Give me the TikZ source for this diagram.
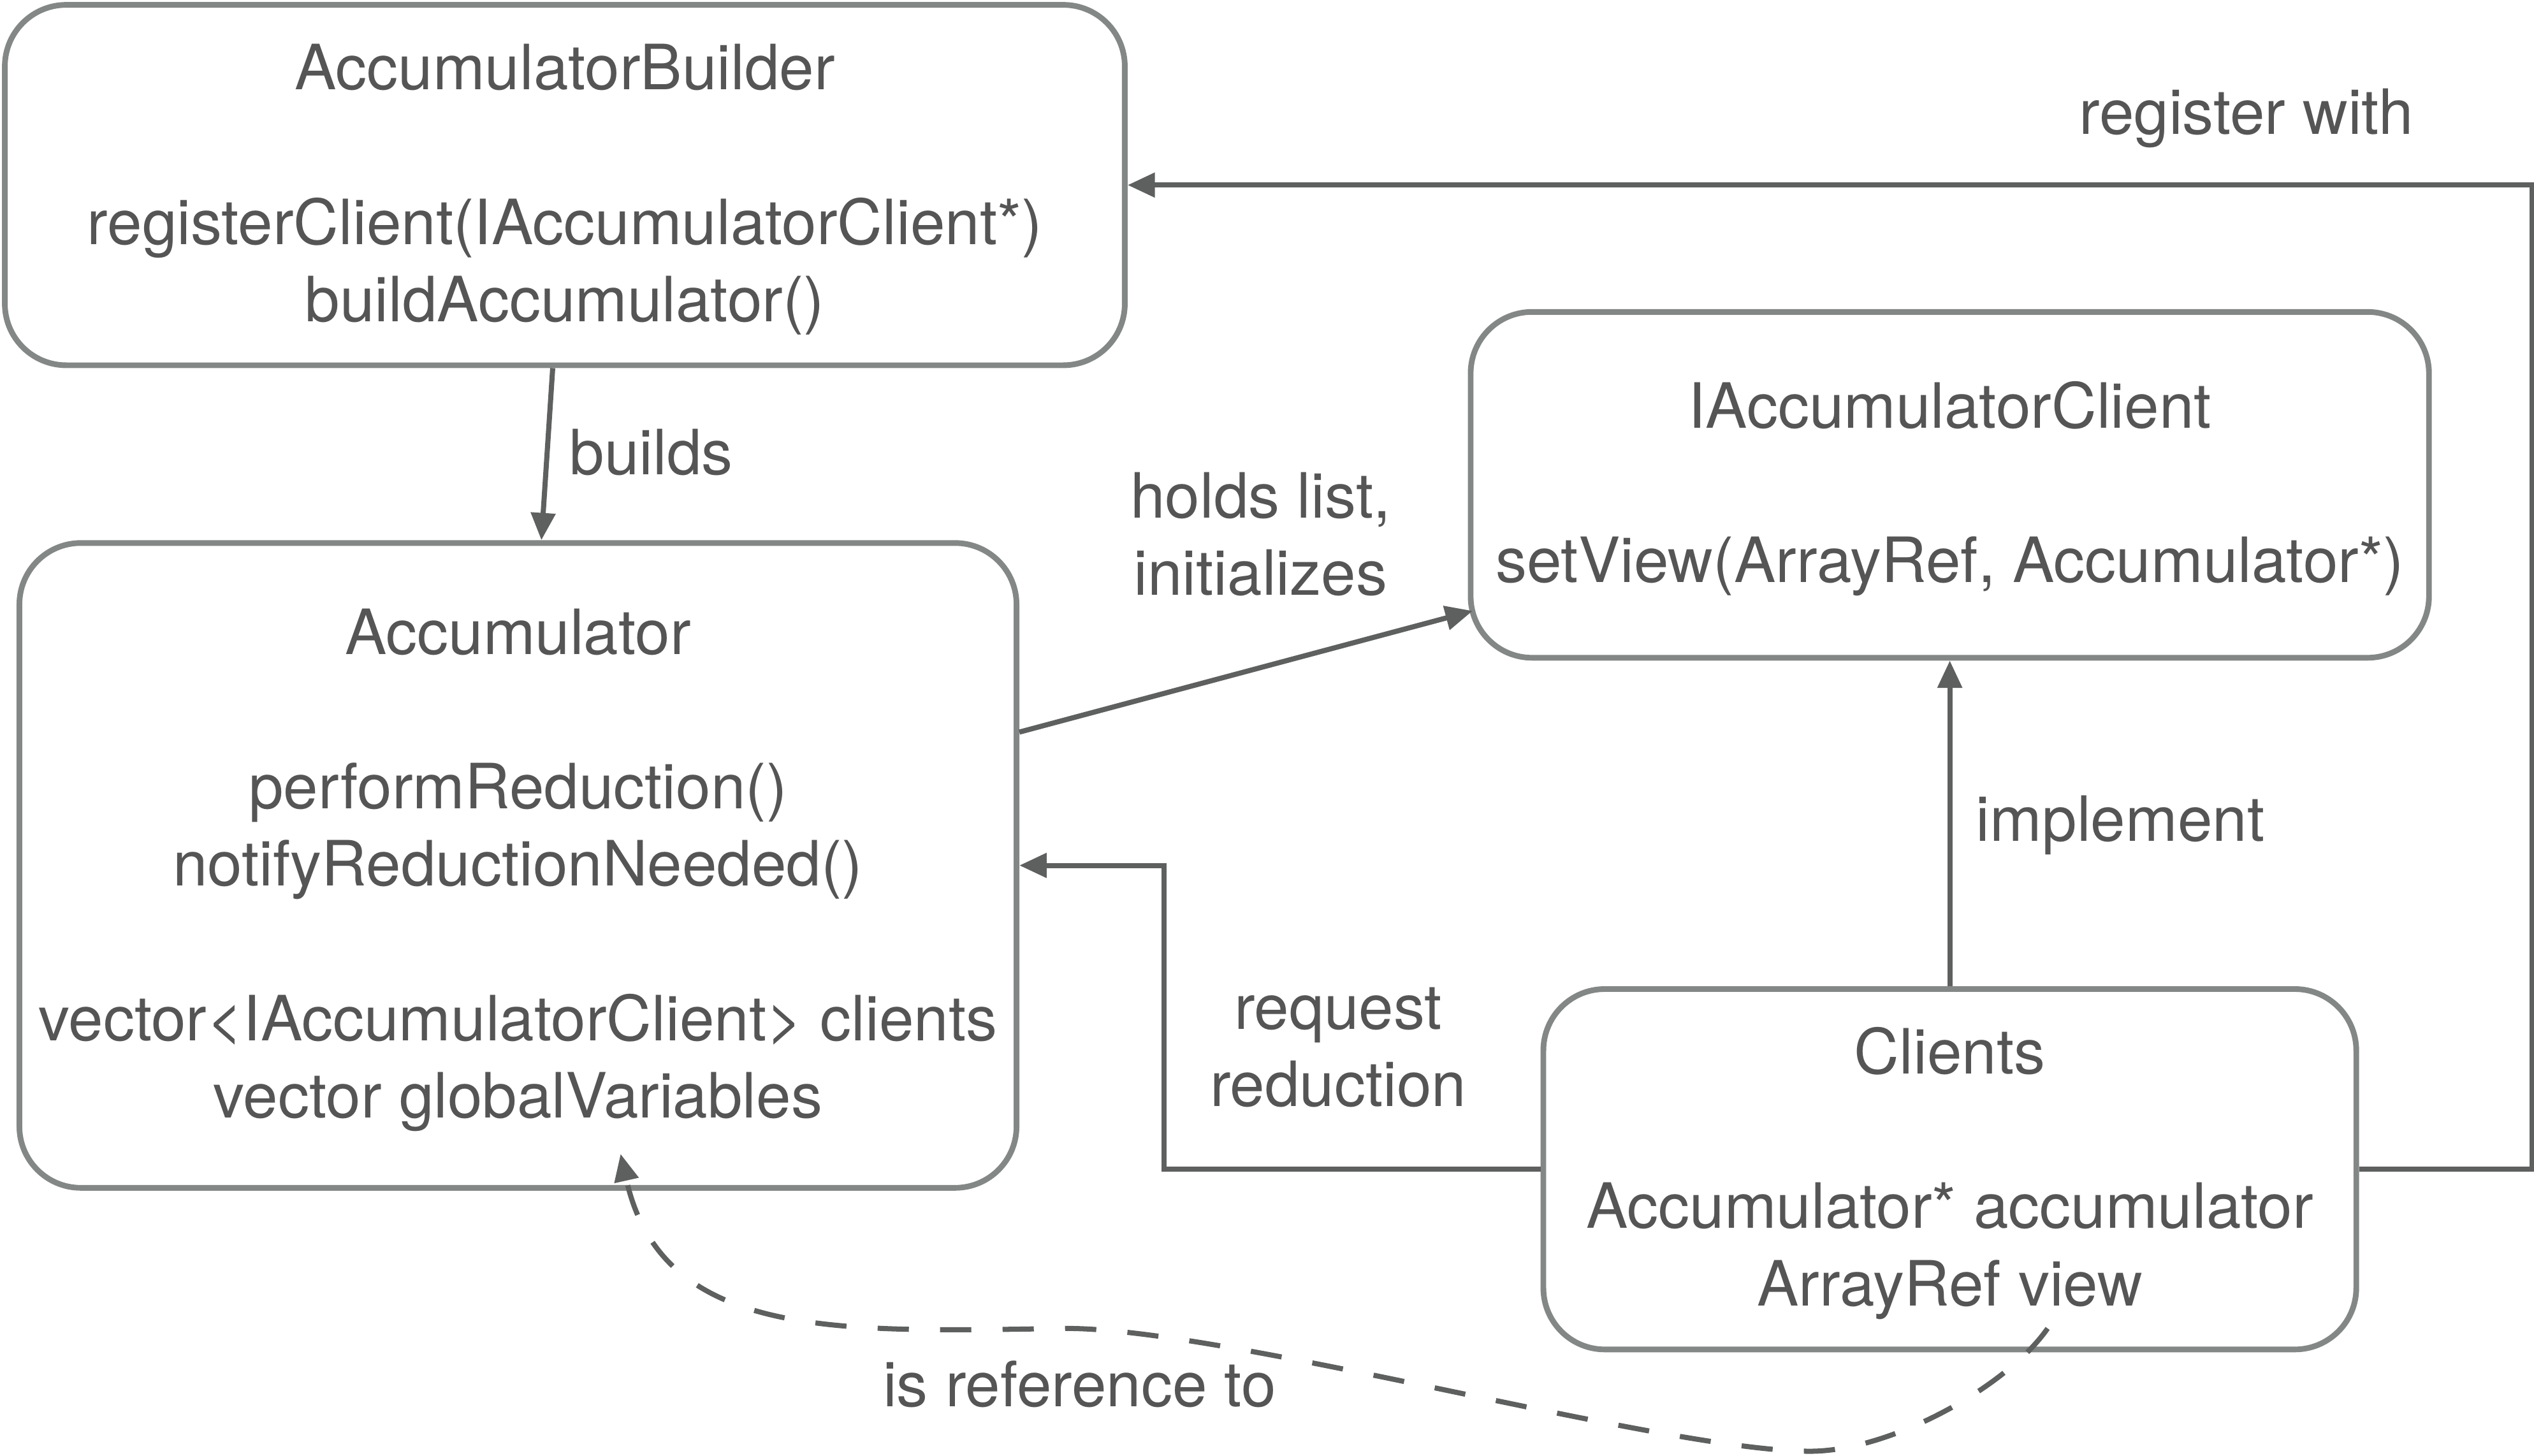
\documentclass[tikz,border=0pt]{standalone}
\usepackage{fontspec}
\setmainfont{TeX Gyre Heros}
\usepackage{xcolor}
\usepackage{tikz}
\usetikzlibrary{arrows.meta}
\usetikzlibrary{calc}
\definecolor{textgray}{HTML}{555555}
\definecolor{boxgray}{HTML}{838785}
\definecolor{linegray}{HTML}{5E605F}
\newcommand{\boxstrut}{\rule{0pt}{9.6pt}}

\begin{document}
\begin{tikzpicture}[
  classbox/.style={draw=boxgray, line width=1pt, rounded corners=0.38cm, inner sep=0pt, align=center, text=textgray, font=\fontsize{11}{13.6}\selectfont},
  relarrow/.style={draw=linegray, line width=0.9pt, -{Triangle[length=4.8pt,width=4.2pt]}},
  rellabel/.style={text=textgray, font=\fontsize{11}{13.6}\selectfont, align=center, inner sep=0pt}
]
  \useasboundingbox (0,0) rectangle (15.68,-9.006);
  % classes
  \node[classbox, minimum width=6.93cm, minimum height=2.23cm] (builder) at (3.495,-1.145) {\boxstrut AccumulatorBuilder\\[13.6pt] registerClient(IAccumulatorClient*)\\ buildAccumulator()};
  \node[classbox, minimum width=6.17cm, minimum height=3.99cm] (accum) at (3.205,-5.355) {\boxstrut Accumulator\\[13.6pt] performReduction()\\ notifyReductionNeeded()\\[13.6pt] vector<IAccumulatorClient> clients\\ vector globalVariables};
  \node[classbox, minimum width=5.93cm, minimum height=2.14cm] (iclient) at (12.065,-3.0) {\boxstrut IAccumulatorClient\\[13.6pt] setView(ArrayRef, Accumulator*)};
  \node[classbox, minimum width=5.03cm, minimum height=2.23cm] (clients) at (12.065,-7.235) {\boxstrut Clients\\[13.6pt] Accumulator* accumulator\\ ArrayRef view};
  % relations
  \draw[relarrow] ([xshift=-0.75mm]builder.south) -- ([xshift=1.45mm]accum.north);
  \draw[relarrow] ([yshift=8.25mm]accum.east) -- ([shift={(0.3mm,-7.8mm)}]iclient.west);
  \draw[relarrow] (clients.north) -- (iclient.south);
  \draw[relarrow] (clients.west) -- ++(-2.33,0) |- (accum.east);
  \draw[relarrow] (clients.east) -- ++(1.07,0) |- (builder.east);
  \coordinate (refstart) at (12.67,-8.22);
  \coordinate (refend) at (3.84,-7.14);
  \draw[relarrow, dash pattern=on 5.5pt off 5.5pt] (refstart) .. controls (12.42,-8.58) and (11.7,-8.98) .. (11.2,-8.98)
    .. controls (10.3,-8.98) and (7.6,-8.22) .. (6.6,-8.22)
    .. controls (5.2,-8.24) and (4.1,-8.3) .. (refend);
  % labels
  \node[rellabel] (buildslbl) at (4.03,-2.80) {builds};
  \node[rellabel] (holdslbl) at (7.80,-3.305) {holds list,\\ initializes};
  \node[rellabel] (implementlbl) at (13.12,-5.105) {implement};
  \node[rellabel] (requestlbl) at (8.28,-6.48) {request\\ reduction};
  \node[rellabel] (registerlbl) at (13.90,-0.73) {register with};
  \node[rellabel] (reflbl) at (6.68,-8.565) {is reference to};
\end{tikzpicture}
\end{document}
